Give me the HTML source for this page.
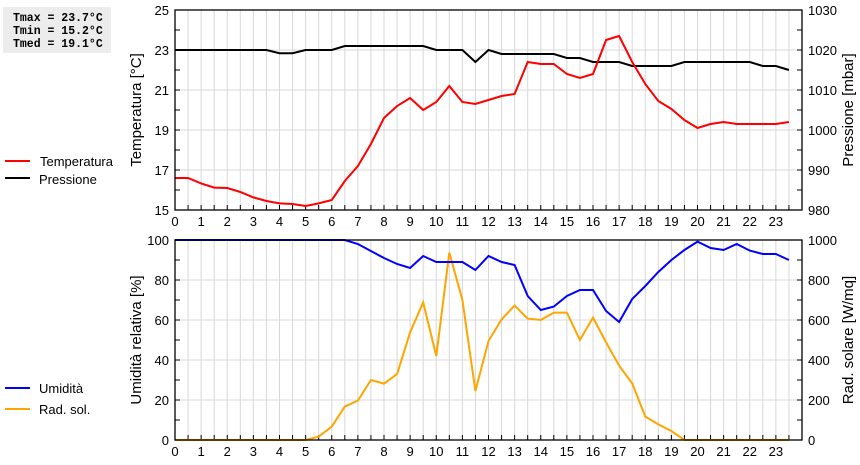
<!DOCTYPE html>
<html><head><meta charset="utf-8"><style>
body{margin:0;background:#fff;width:860px;height:460px;overflow:hidden}
svg text{font-family:"Liberation Sans",sans-serif;fill:#000}
</style></head><body>
<svg id="c" width="860" height="460" xmlns="http://www.w3.org/2000/svg">
<rect x="3" y="7" width="108" height="46" fill="#ececec"/>
<g font-family="Liberation Mono,monospace" font-weight="bold" font-size="11.5">
<text x="13" y="21" style="font-family:'Liberation Mono',monospace">Tmax = 23.7°C</text>
<text x="13" y="34" style="font-family:'Liberation Mono',monospace">Tmin = 15.2°C</text>
<text x="13" y="47" style="font-family:'Liberation Mono',monospace">Tmed = 19.1°C</text>
</g>
<g font-size="13">
<line x1="5" y1="161" x2="30" y2="161" stroke="#f00" stroke-width="2"/><text x="40" y="166">Temperatura</text>
<line x1="5" y1="178" x2="30" y2="178" stroke="#000" stroke-width="2"/><text x="39" y="184">Pressione</text>
</g>
<g font-size="13">
<line x1="5" y1="388" x2="30" y2="388" stroke="#00f" stroke-width="2"/><text x="39" y="393">Umidità</text>
<line x1="5" y1="409" x2="30" y2="409" stroke="#ffa500" stroke-width="2"/><text x="39" y="414">Rad. sol.</text>
</g>
<g id="plots"></g>
</svg>
<script>
const hours=[];for(let i=0;i<48;i++)hours.push(i/2);
const temperature=[16.6,16.6,16.33,16.12,16.1,15.9,15.63,15.45,15.33,15.3,15.2,15.33,15.5,16.45,17.2,18.3,19.6,20.2,20.6,20.0,20.4,21.2,20.4,20.3,20.5,20.7,20.8,22.4,22.3,22.3,21.8,21.6,21.8,23.5,23.7,22.4,21.3,20.45,20.05,19.5,19.1,19.3,19.4,19.3,19.3,19.3,19.3,19.4];
const pressure=[1020,1020,1020,1020,1020,1020,1020,1020,1019.2,1019.2,1020,1020,1020,1021,1021,1021,1021,1021,1021,1021,1020,1020,1020,1017,1020,1019,1019,1019,1019,1019,1018,1018,1017,1017,1017,1016,1016,1016,1016,1017,1017,1017,1017,1017,1017,1016,1016,1015];
const humidity=[100,100,100,100,100,100,100,100,100,100,100,100,100,100,98,94.5,91,88,86,92,89,89,89,85,92,89,87.5,72,65,66.7,72,75,75,64.5,59,70.5,77,84,90,95,99.2,96,95,98,94.7,93,93,90];
const radiation=[0,0,0,0,0,0,0,0,0,0,0,17,67,167,197,300,282,330,538,688,420,937,700,245,495,603,672,607,600,637,637,500,612,488,372,283,117,78,45,0,0,0,0,0,0,0,0,0];
const xTicks=[0,1,2,3,4,5,6,7,8,9,10,11,12,13,14,15,16,17,18,19,20,21,22,23];
const tempTicks=[15,17,19,21,23,25];
const presTicks=[980,990,1000,1010,1020,1030];
const humTicks=[0,20,40,60,80,100];
const radTicks=[0,200,400,600,800,1000];
const NS='http://www.w3.org/2000/svg';
const g=document.getElementById('plots');
const X0=175,X1=802;
const sx=h=>X0+(X1-X0)*h/24;
function el(t,a,p){const e=document.createElementNS(NS,t);for(const k in a)e.setAttribute(k,a[k]);(p||g).appendChild(e);return e;}
function panel(top,bot,lmin,lmax,rmin,rmax,lt,rt,ltitle,rtitle,series,name){
  const sl=v=>bot-(bot-top)*(v-lmin)/(lmax-lmin);
  const sr=v=>bot-(bot-top)*(v-rmin)/(rmax-rmin);
  const grp=el('g',{});
  
  
  for(let i=1;i<48;i++){const x=sx(i/2);const l=el('line',{x1:x,x2:x,y1:top,y2:bot,stroke:'#d8d8d8','stroke-width':1},grp);}
  lt.forEach(v=>{const y=sl(v);const l=el('line',{x1:X0,x2:X1,y1:y,y2:y,stroke:'#d8d8d8'},grp);});
  // minor/major ticks
  for(let i=0;i<=10;i++){const y=top+(bot-top)*i/10;el('line',{x1:X0,x2:X0+5,y1:y,y2:y,stroke:'#000'},grp);el('line',{x1:X1-5,x2:X1,y1:y,y2:y,stroke:'#000'},grp);}
  for(let i=1;i<48;i++){const x=sx(i/2);el('line',{x1:x,x2:x,y1:bot-5,y2:bot,stroke:'#000'},grp);}
  lt.forEach(v=>{const t=el('text',{x:X0-6,y:sl(v)+5,'text-anchor':'end','font-size':13},grp);t.textContent=v;});
  rt.forEach(v=>{const t=el('text',{x:X1+6,y:sr(v)+5,'font-size':13},grp);t.textContent=v;});
  xTicks.forEach(v=>{const t=el('text',{x:sx(v),y:bot+16,'text-anchor':'middle','font-size':13},grp);t.textContent=v;});
  const my=(top+bot)/2;
  let t=el('text',{x:0,y:0,'text-anchor':'middle','font-size':15,transform:`translate(141,${my}) rotate(-90)`},grp);t.textContent=ltitle;
  t=el('text',{x:0,y:0,'text-anchor':'middle','font-size':15,transform:`translate(853,${my}) rotate(-90)`},grp);t.textContent=rtitle;
  series.forEach(s=>{const sc=s.right?sr:sl;const d=s.data.map((v,i)=>(i?'L':'M')+sx(hours[i]).toFixed(1)+','+sc(v).toFixed(1)).join('');const p=el('path',{d:d,fill:'none',stroke:s.color,'stroke-width':2},grp);});
  const b=el('rect',{x:X0,y:top,width:X1-X0,height:bot-top,fill:'none',stroke:'#000','stroke-width':1.3},grp);
}
panel(10,210,15,25,980,1030,tempTicks,presTicks,'Temperatura [°C]','Pressione [mbar]',[{data:pressure,color:'#000',right:true,name:'pressure-line'},{data:temperature,color:'#f00',name:'temperature-line'}],'top-panel');
panel(240,440,0,100,0,1000,humTicks,radTicks,'Umidità relativa [%]','Rad. solare [W/mq]',[{data:radiation,color:'#ffa500',right:true,name:'radiation-line'},{data:humidity,color:'#00f',name:'humidity-line'}],'bottom-panel');
</script>
</body></html>
